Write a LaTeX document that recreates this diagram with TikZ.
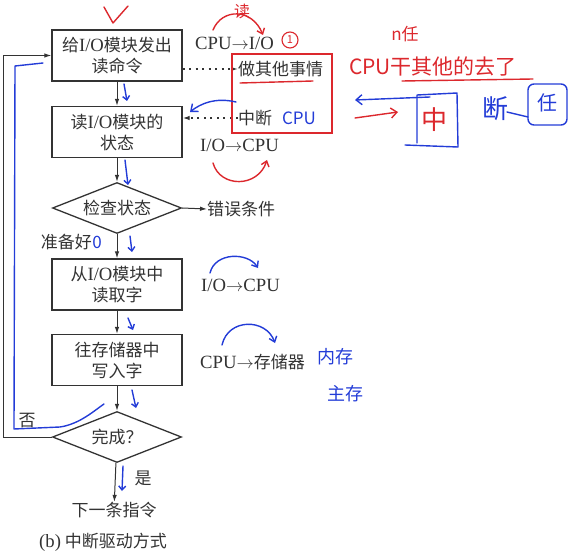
\documentclass[tikz,border=0pt]{standalone}
\usepackage{fontspec}
\setmainfont{Noto Sans CJK SC}
\newfontfamily\lat[Scale=1.1]{Liberation Serif}
\usepackage{tikz}
\usetikzlibrary{shapes.geometric,arrows.meta}
\definecolor{ink}{gray}{0.2}
\definecolor{pen}{RGB}{35,60,215}
\definecolor{marker}{RGB}{220,40,45}

\begin{document}
\begin{tikzpicture}[x=1pt, y=-1pt,
  font=\fontsize{17}{21}\selectfont,
  box/.style={draw=ink, line width=1.3pt, minimum width=130pt, minimum height=51pt, align=center, text=ink, inner sep=0pt},
  decide/.style={draw=ink, line width=1.3pt, diamond, aspect=2.53, minimum width=129pt, minimum height=51pt, inner sep=0pt, text=ink},
  lbl/.style={text=ink, inner sep=0pt},
  flow/.style={ink, line width=1pt, -{Latex[length=7pt,width=4.5pt]}},
  hint/.style={ink, line width=1.3pt, dash pattern=on 2pt off 4.5pt, -{Latex[length=7pt,width=4.5pt]}},
  hand/.style={line width=1.4pt, line cap=round, line join=round},
  tick/.style={hand, pen, -{Straight Barb[length=4pt,width=7pt]}},
]

\useasboundingbox (0,0) rectangle (573,559);

%% Printed flow chart

% boxes
\node (give) at (117,55.5) [box] {给{\lat I/O}模块发出\\读命令};
\node (status) at (117,132) [box] {读{\lat I/O}模块的\\状态};
\node (check) at (117,208) [decide] {检查状态};
\node (fetch) at (117,284.5) [box] {从{\lat I/O}模块中\\读取字};
\node (store) at (117,360) [box] {往存储器中\\写入字};
\node (done) at (117,437) [decide] {完成？};
\node (next) at (114,510) [lbl] {下一条指令};
\node (caption) at (103,542) [lbl] {{\lat (b)} 中断驱动方式};

% side labels
\node (error) at (207,209) [lbl, anchor=west] {错误条件};
\node (ready) at (92,242) [lbl, anchor=east] {准备好};
\node (no) at (27,421) [lbl] {否};
\node (yes) at (143,478) [lbl] {是};
\node (cpuio) at (195,43) [lbl, anchor=west] {{\lat CPU}$\rightarrow${\lat I/O}};
\node (other) at (238,69) [lbl, anchor=west] {做其他事情};
\node (intr) at (238,118) [lbl, anchor=west] {中断};
\node (iocpu) at (200,145) [lbl, anchor=west] {{\lat I/O}$\rightarrow${\lat CPU}};
\node (iocpu2) at (201,285) [lbl, anchor=west] {{\lat I/O}$\rightarrow${\lat CPU}};
\node (cpumem) at (200,362) [lbl, anchor=west] {{\lat CPU}$\rightarrow$存储器};

% main flow
\draw [flow] (give) -- (status);
\draw [flow] (status) -- (check);
\draw [flow] (check) -- (fetch);
\draw [flow] (fetch) -- (store);
\draw [flow] (store) -- (done);
\draw [flow] (done) -- (next);
\draw [flow] (check.east) -- (error.west);

% loop back
\coordinate (back) at (3,55.5);
\draw [flow] (done.west) -| (back) -- (give.west);

% CPU does other work
\draw [hint] (give.east |- other) -- (other.west);
\draw [hint] (intr.west) -- (status.east |- intr);
\draw [marker, line width=1.1pt] (232,54) rectangle (332,133);

%% Handwritten notes

% red
\draw [hand, marker] (104,7) -- (113,23) -- (128,6);
\node (readmark) at (242,11) [text=marker, font=\fontsize{16}{16}\selectfont] {读};
\draw [hand, marker, -{Straight Barb[length=5pt,width=8pt]}] (213,30) .. controls (222,8) and (252,8) .. (263,35);
\node (one) at (290,40) [draw=marker, circle, line width=1.1pt, minimum size=16pt, inner sep=0pt, text=marker, font=\fontsize{11}{11}\selectfont] {1};
\draw [hand, marker] (240,83) -- (313,81);
\draw [hand, marker, -{Straight Barb[length=5pt,width=8pt]}] (213,163) .. controls (220,188) and (258,188) .. (267,160);
\node (ntask) at (405,34) [text=marker, font=\fontsize{17}{17}\selectfont] {n任};
\node (busy) at (433,66) [text=marker, font=\fontsize{21}{21}\selectfont] {CPU干其他的去了};
\draw [hand, marker] (402,81) -- (533,79);
\draw [hand, marker, -{Straight Barb[length=6pt,width=10pt]}] (355,118) -- (398,112);

% blue
\node (cpuhand) at (299,118) [text=pen, font=\fontsize{17}{17}\selectfont] {CPU};
\draw [hand, pen, -{Straight Barb[length=6pt,width=10pt]}] (236,102) .. controls (215,97) and (200,104) .. (190,112);
\draw [hand, pen] (43,63) -- (15,66) -- (14,429) -- (60,427) .. controls (80,424) and (95,410) .. (104,404);
\draw [tick] (124,84) -- (127,101);
\draw [tick] (125,160) -- (128,185);
\draw [tick] (130,236) -- (132,252);
\draw [tick] (128,318) -- (133,330);
\draw [tick] (132,390) -- (136,408);
\draw [tick] (123,466) -- (122,491);
\node (zero) at (97,242) [text=pen] {0};
\draw [hand, pen, -{Straight Barb[length=5pt,width=8pt]}] (210,273) .. controls (215,252) and (248,252) .. (258,268);
\draw [hand, pen, -{Straight Barb[length=5pt,width=8pt]}] (222,345) .. controls (228,318) and (266,318) .. (275,343);
\node (inner) at (335,357) [text=pen, font=\fontsize{18}{18}\selectfont] {内存};
\node (main) at (345,394) [text=pen, font=\fontsize{18}{18}\selectfont] {主存};
\draw [hand, pen, -{Straight Barb[length=6pt,width=10pt]}] (430,97) -- (355,100);
\draw [hand, pen] (405,145) -- (458,147) -- (457,93) -- (417,95) -- (417,143);
\node (zhong) at (434,120) [text=marker, font=\fontsize{26}{26}\selectfont] {中};
\node (duan) at (495,109) [text=pen, font=\fontsize{26}{26}\selectfont] {断};
\draw [hand, pen, rounded corners=6pt] (528,84) rectangle (567,125);
\draw [hand, pen] (507,112) -- (528,117);
\node (ren) at (547,103) [text=pen, font=\fontsize{20}{20}\selectfont] {任};

\end{tikzpicture}
\end{document}
